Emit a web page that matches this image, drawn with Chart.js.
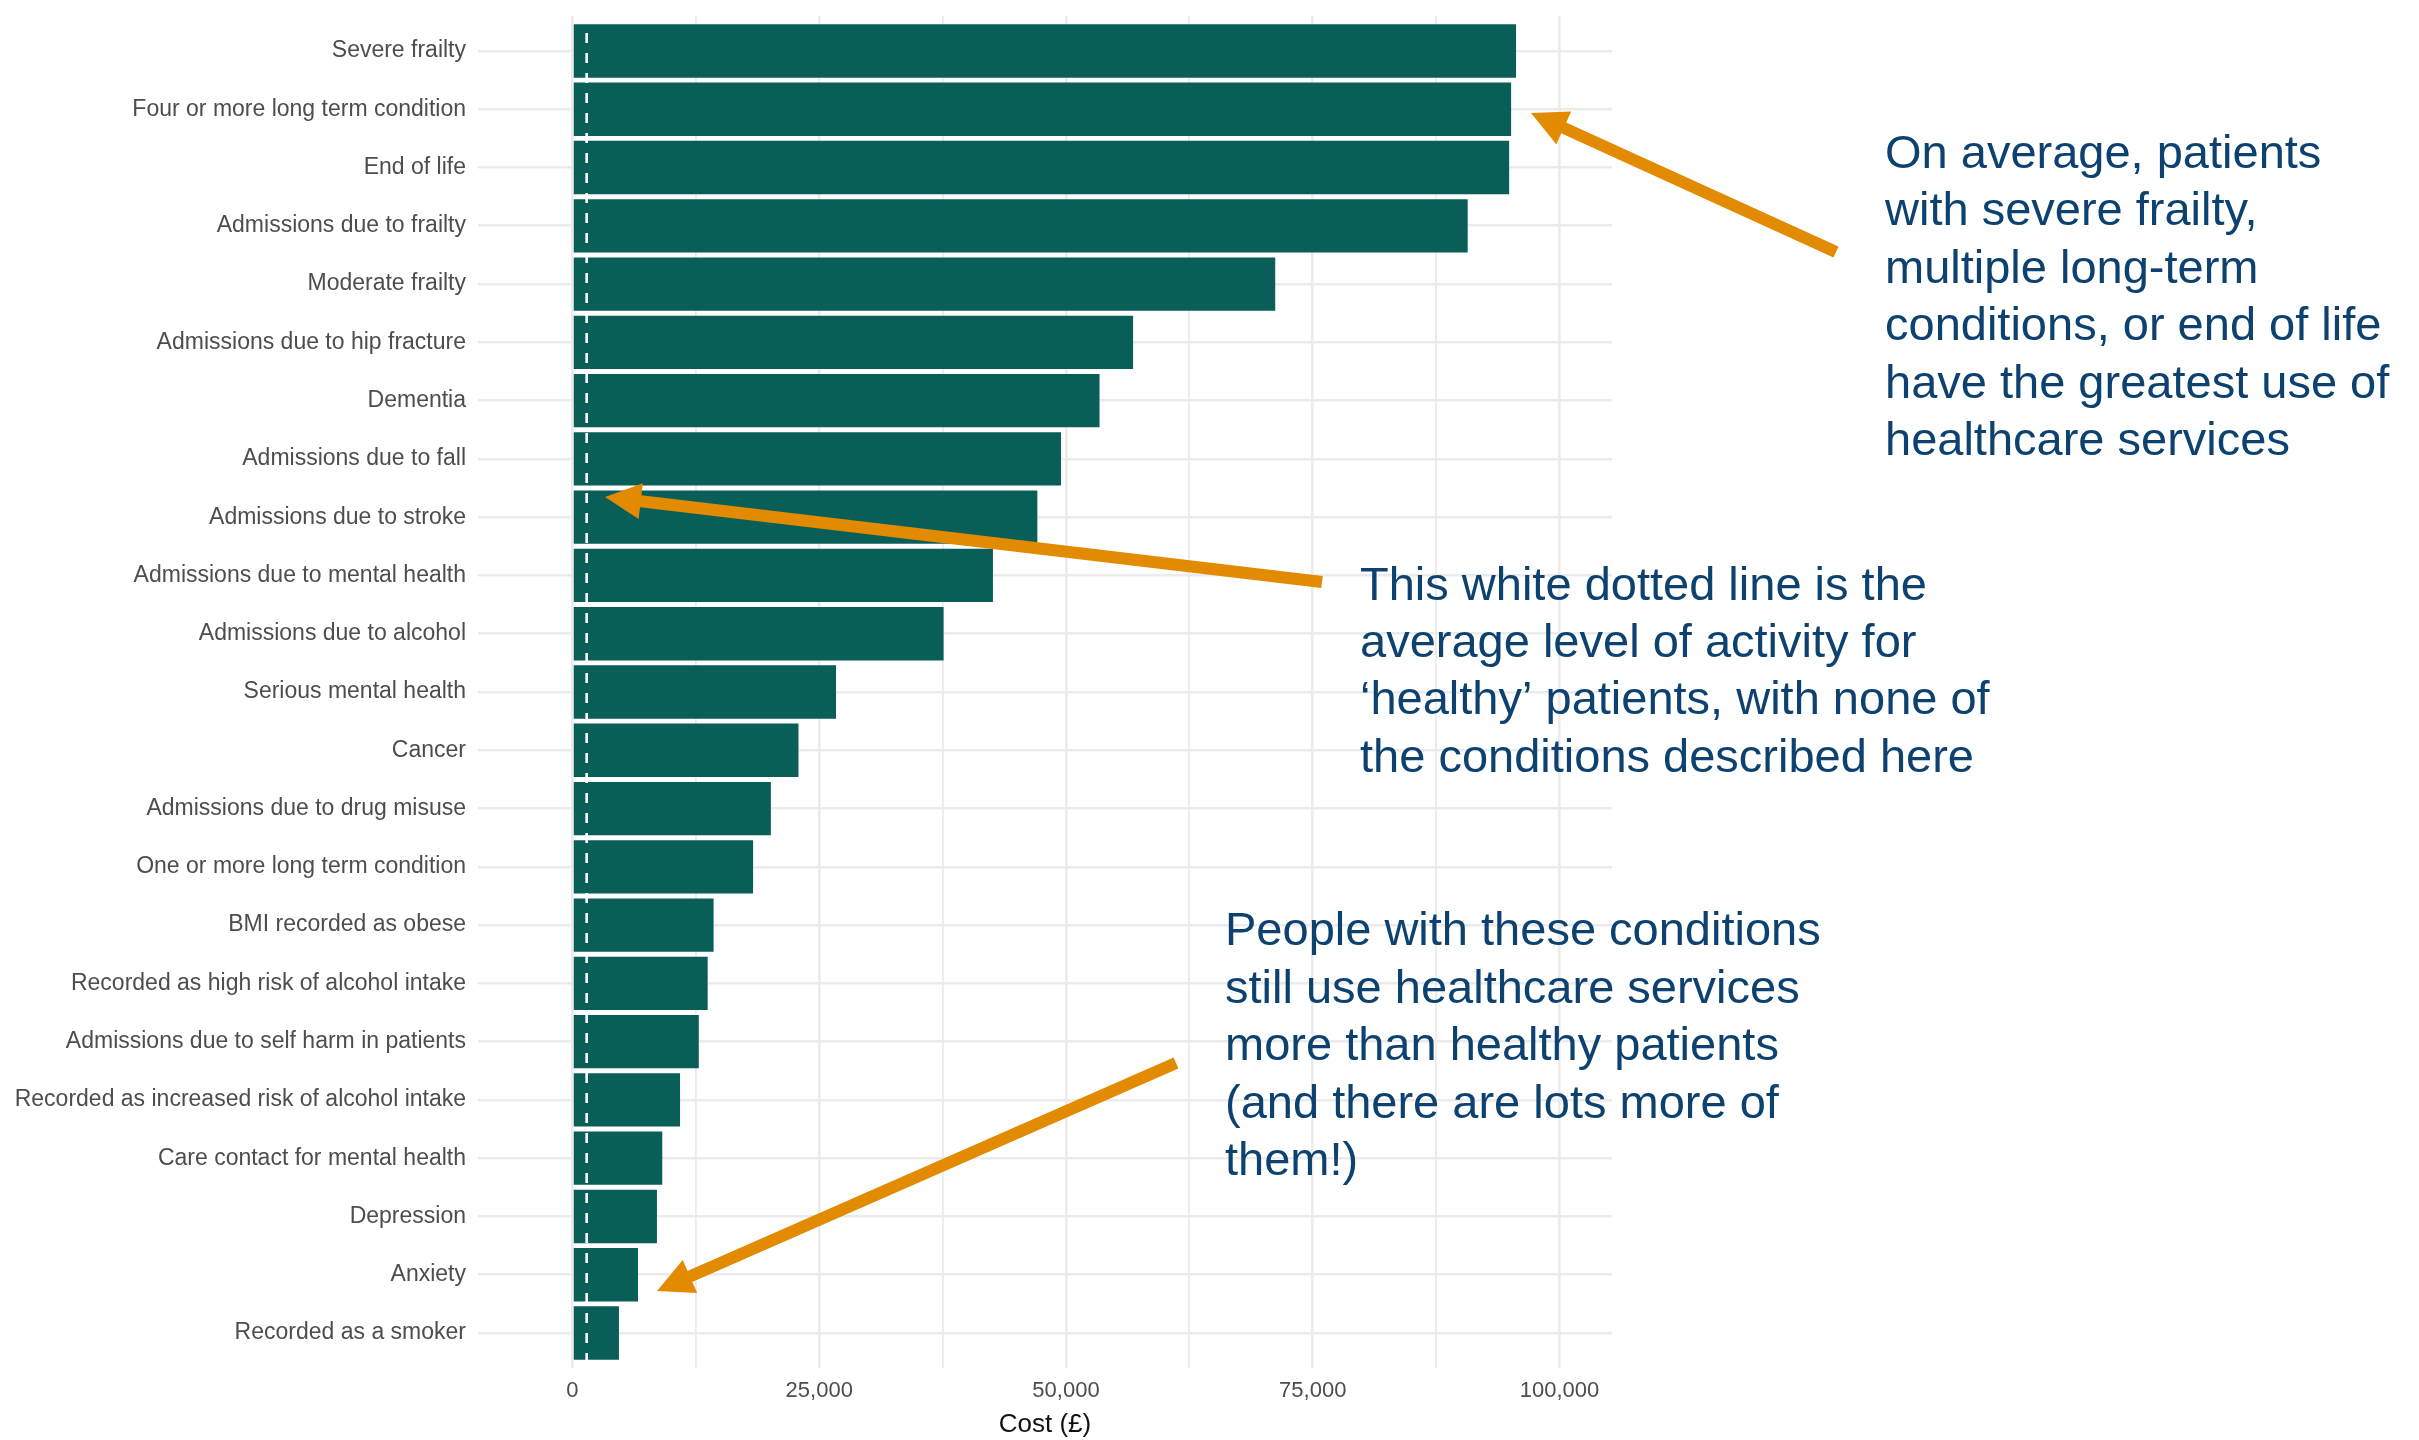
<!DOCTYPE html>
<html>
<head>
<meta charset="utf-8">
<title>Average cost per patient by condition</title>
<script src="https://cdn.jsdelivr.net/npm/chart.js@4/dist/chart.umd.min.js"></script>
<style>
  html, body { margin: 0; padding: 0; background: #ffffff; }
  #wrap { position: relative; width: 2419px; height: 1440px; }
  canvas { display: block; }
</style>
</head>
<body>
<div id="wrap"><canvas id="chart" width="2419" height="1440"></canvas></div>
<script>
// Condition groups, ordered from highest to lowest average cost
const categories = [
  "Severe frailty",
  "Four or more long term condition",
  "End of life",
  "Admissions due to frailty",
  "Moderate frailty",
  "Admissions due to hip fracture",
  "Dementia",
  "Admissions due to fall",
  "Admissions due to stroke",
  "Admissions due to mental health",
  "Admissions due to alcohol",
  "Serious mental health",
  "Cancer",
  "Admissions due to drug misuse",
  "One or more long term condition",
  "BMI recorded as obese",
  "Recorded as high risk of alcohol intake",
  "Admissions due to self harm in patients",
  "Recorded as increased risk of alcohol intake",
  "Care contact for mental health",
  "Depression",
  "Anxiety",
  "Recorded as a smoker"
];

// Average cost per patient (£)
const costs = [
  95600, 95100, 94900, 90700, 71200, 56800, 53400, 49500, 47100, 42600,
  37600, 26700, 22900, 20100, 18300, 14300, 13700, 12800, 10900, 9100,
  8560, 6640, 4710
];

// Average cost for patients with none of the conditions above (£)
const healthyAverage = 1440;

// Axis breaks
const xMajorTicks = [0, 25000, 50000, 75000, 100000];
const xMinorTicks = [12500, 37500, 62500, 87500];
const xLimits = [-9570, 105320];

// Callout texts
const calloutTop = [
  "On average, patients",
  "with severe frailty,",
  "multiple long-term",
  "conditions, or end of life",
  "have the greatest use of",
  "healthcare services"
];
const calloutMiddle = [
  "This white dotted line is the",
  "average level of activity for",
  "\u2018healthy\u2019 patients, with none of",
  "the conditions described here"
];
const calloutBottom = [
  "People with these conditions",
  "still use healthcare services",
  "more than healthy patients",
  "(and there are lots more of",
  "them!)"
];

const FONT = '"Liberation Sans", Arial, Helvetica, sans-serif';
const GRID = '#ebebeb';
const BAR = '#0a5e58';
const ORANGE = '#e28a00';
const NAVY = '#0d4270';

// White dashed reference line at the healthy-patient average
const healthyLine = {
  id: 'healthyLine',
  afterDatasetsDraw(chart) {
    const { ctx, chartArea, scales } = chart;
    const x = scales.x.getPixelForValue(healthyAverage);
    ctx.save();
    ctx.strokeStyle = '#ffffff';
    ctx.lineWidth = 2.6;
    ctx.setLineDash([10, 10]);
    ctx.lineDashOffset = 2.9;
    ctx.beginPath();
    ctx.moveTo(x, chartArea.top);
    ctx.lineTo(x, chartArea.bottom);
    ctx.stroke();
    ctx.restore();
  }
};

function drawArrow(ctx, x1, y1, x2, y2) {
  const shaft = 12, headLen = 36, headHalf = 18;
  const dx = x2 - x1, dy = y2 - y1;
  const len = Math.hypot(dx, dy);
  const ux = dx / len, uy = dy / len;
  const px = -uy, py = ux;
  const bx = x2 - ux * headLen, by = y2 - uy * headLen;
  ctx.save();
  ctx.strokeStyle = ORANGE;
  ctx.fillStyle = ORANGE;
  ctx.lineWidth = shaft;
  ctx.lineCap = 'butt';
  ctx.beginPath();
  ctx.moveTo(x1, y1);
  ctx.lineTo(bx + ux * 2, by + uy * 2);
  ctx.stroke();
  ctx.beginPath();
  ctx.moveTo(x2, y2);
  ctx.lineTo(bx + px * headHalf, by + py * headHalf);
  ctx.lineTo(bx - px * headHalf, by - py * headHalf);
  ctx.closePath();
  ctx.fill();
  ctx.restore();
}

function drawLines(ctx, lines, x, firstBaseline, step) {
  lines.forEach((t, i) => ctx.fillText(t, x, firstBaseline + i * step));
}

// Callout arrows and texts on top of the plot
const callouts = {
  id: 'callouts',
  afterDraw(chart) {
    const { ctx } = chart;
    drawArrow(ctx, 1836, 252, 1531, 113);
    drawArrow(ctx, 1322, 582, 605, 497);
    drawArrow(ctx, 1176, 1063, 657, 1291);
    ctx.save();
    ctx.fillStyle = NAVY;
    ctx.font = '47px ' + FONT;
    ctx.textAlign = 'left';
    ctx.textBaseline = 'alphabetic';
    drawLines(ctx, calloutTop, 1885, 168, 57.4);
    drawLines(ctx, calloutMiddle, 1360, 600, 57.2);
    drawLines(ctx, calloutBottom, 1225, 945, 57.5);
    ctx.restore();
  }
};

const ctx = document.getElementById('chart').getContext('2d');
new Chart(ctx, {
  type: 'bar',
  data: {
    datasets: [{
      label: 'Cost (£)',
      data: categories.map((c, i) => ({ x: costs[i], y: i })),
      backgroundColor: BAR,
      borderWidth: 0,
      barPercentage: 0.915,
      categoryPercentage: 1.0
    }]
  },
  options: {
    indexAxis: 'y',
    responsive: false,
    animation: false,
    devicePixelRatio: 1,
    layout: { padding: { top: 16, right: 807, left: 0, bottom: 0 } },
    plugins: {
      legend: { display: false },
      tooltip: { enabled: false }
    },
    scales: {
      x: {
        type: 'linear',
        min: xLimits[0],
        max: xLimits[1],
        offset: false,
        afterBuildTicks(scale) {
          scale.ticks = xMajorTicks.concat(xMinorTicks)
            .sort((a, b) => a - b)
            .map(v => ({ value: v }));
        },
        afterFit(scale) {
          scale.height = 72;
          scale.paddingLeft = 0;
          scale.paddingRight = 0;
        },
        border: { display: false },
        grid: {
          color: GRID,
          offset: false,
          lineWidth: c => (xMajorTicks.includes(c.tick && c.tick.value) ? 2.6 : 1.8),
          drawTicks: false
        },
        ticks: {
          autoSkip: false,
          maxRotation: 0,
          padding: 10,
          color: '#4d4d4d',
          font: { family: FONT, size: 22 },
          callback: v => (xMajorTicks.includes(v) ? v.toLocaleString('en-GB') : '')
        },
        title: {
          display: true,
          text: 'Cost (£)',
          color: '#111111',
          font: { family: FONT, size: 26 },
          padding: { top: 0, bottom: 0 }
        }
      },
      y: {
        type: 'linear',
        reverse: true,
        offset: false,
        min: -0.6,
        max: categories.length - 1 + 0.6,
        afterBuildTicks(scale) {
          scale.ticks = categories.map((c, i) => ({ value: i }));
        },
        afterFit(scale) {
          scale.width = 478;
          scale.paddingTop = 0;
          scale.paddingBottom = 0;
        },
        border: { display: false },
        grid: { color: GRID, lineWidth: 2.6, drawTicks: false, offset: false },
        ticks: {
          autoSkip: false,
          padding: 12,
          color: '#4d4d4d',
          font: { family: FONT, size: 23 },
          callback: v => categories[v]
        }
      }
    }
  },
  plugins: [healthyLine, callouts]
});
</script>
</body>
</html>
